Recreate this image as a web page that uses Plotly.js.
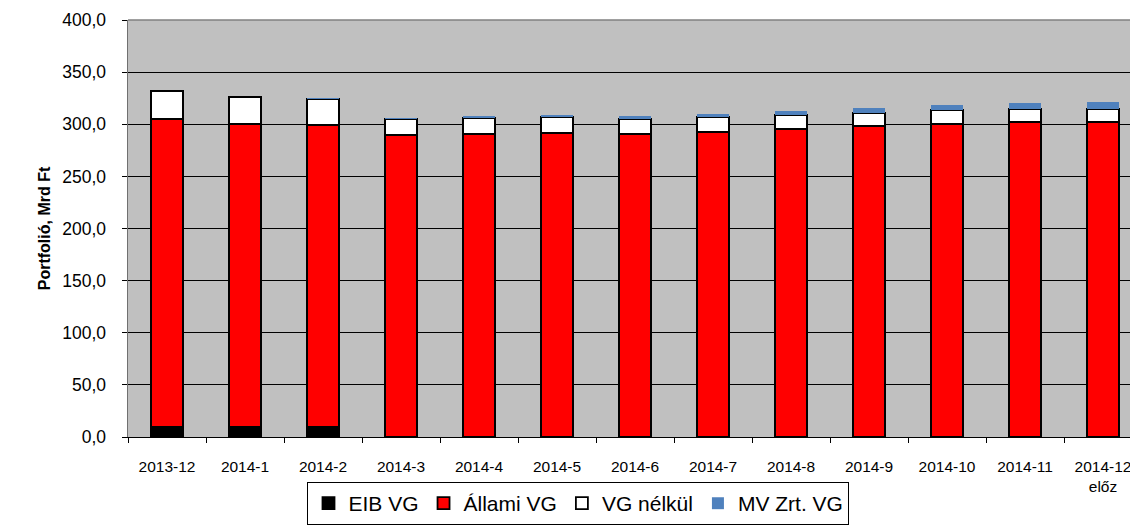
<!DOCTYPE html>
<html>
<head>
<meta charset="utf-8">
<script src="https://cdn.plot.ly/plotly-3.0.1.min.js"></script>
<style>html,body{margin:0;padding:0;overflow:hidden;background:#fff}#chart{width:1130px;height:527px}</style>
</head>
<body>
<div id="chart"></div>
<script>
const categories = ["2013-12","2014-1","2014-2","2014-3","2014-4","2014-5","2014-6","2014-7","2014-8","2014-9","2014-10","2014-11","2014-12<br>előz"];
const eibVG     = [10, 10, 10, 0, 0, 0, 0, 0, 0, 0, 0, 0, 0];
const allamiVG  = [295.3, 290.0, 289.3, 289.7, 290.3, 291.6, 290.9, 292.9, 295.4, 298.3, 300.6, 301.9, 302.4];
const vgNelkul  = [26.6, 25.9, 24.9, 15.0, 15.4, 15.1, 13.8, 13.8, 13.2, 12.8, 12.8, 12.4, 11.9];
const mvZrtVG   = [0, 0.3, 0.7, 1.6, 2.2, 2.2, 2.9, 3.5, 4.5, 4.5, 5.1, 5.8, 6.8];
const yTicks = [0, 50, 100, 150, 200, 250, 300, 350, 400];

const lineSpec = {color: '#000000', width: 1.8};
const traces = [
  {name: 'EIB VG', x: categories, y: eibVG, type: 'bar', marker: {color: '#000000', line: lineSpec}},
  {name: 'Állami VG', x: categories, y: allamiVG, type: 'bar', marker: {color: '#FF0000', line: lineSpec}},
  {name: 'VG nélkül', x: categories, y: vgNelkul, type: 'bar', marker: {color: '#FFFFFF', line: lineSpec}},
  {name: 'MV Zrt. VG', x: categories, y: mvZrtVG, type: 'bar', marker: {color: '#4F81BD', line: {width: 0}}}
];

const layout = {
  width: 1130, height: 527,
  margin: {l: 128, r: 0, t: 20, b: 90, pad: 0, autoexpand: false},
  barmode: 'stack',
  bargap: 0.59,
  separators: ', ',
  paper_bgcolor: '#FFFFFF',
  plot_bgcolor: '#C0C0C0',
  font: {family: 'Arial, Liberation Sans, sans-serif', color: '#000000'},
  showlegend: true,
  legend: {
    orientation: 'h', x: 0.4496, xanchor: 'center', y: -0.108, yanchor: 'top',
    font: {size: 21, family: 'Arial, Liberation Sans, sans-serif'},
    bordercolor: '#000000', borderwidth: 1, bgcolor: '#FFFFFF',
    traceorder: 'normal', itemclick: false
  },
  xaxis: {
    type: 'category',
    range: [-0.5, 12.346],
    tickson: 'boundaries',
    ticks: 'outside', ticklen: 5, tickcolor: '#000000',
    ticklabelstandoff: 15,
    showline: true, linecolor: '#000000', linewidth: 1,
    showgrid: false,
    tickfont: {size: 15.5},
    automargin: false
  },
  yaxis: {
    range: [0, 400],
    tickvals: yTicks,
    tickformat: '.1f',
    ticks: 'outside', ticklen: 5, tickcolor: '#000000',
    ticklabelstandoff: 12,
    showline: true, linecolor: '#707070', linewidth: 1.5,
    showgrid: true, gridcolor: '#000000', gridwidth: 1,
    zeroline: false,
    tickfont: {size: 17.5},
    title: {text: 'Portfolió, Mrd Ft', font: {size: 16, weight: 'bold'}, standoff: 7},
    automargin: false
  },
  shapes: [
    {type: 'line', xref: 'paper', yref: 'paper', x0: 0, x1: 1, y0: 1, y1: 1, line: {color: '#808080', width: 1.5}}
  ]
};

Plotly.newPlot('chart', traces, layout, {displayModeBar: false, staticPlot: true});
</script>
</body>
</html>
